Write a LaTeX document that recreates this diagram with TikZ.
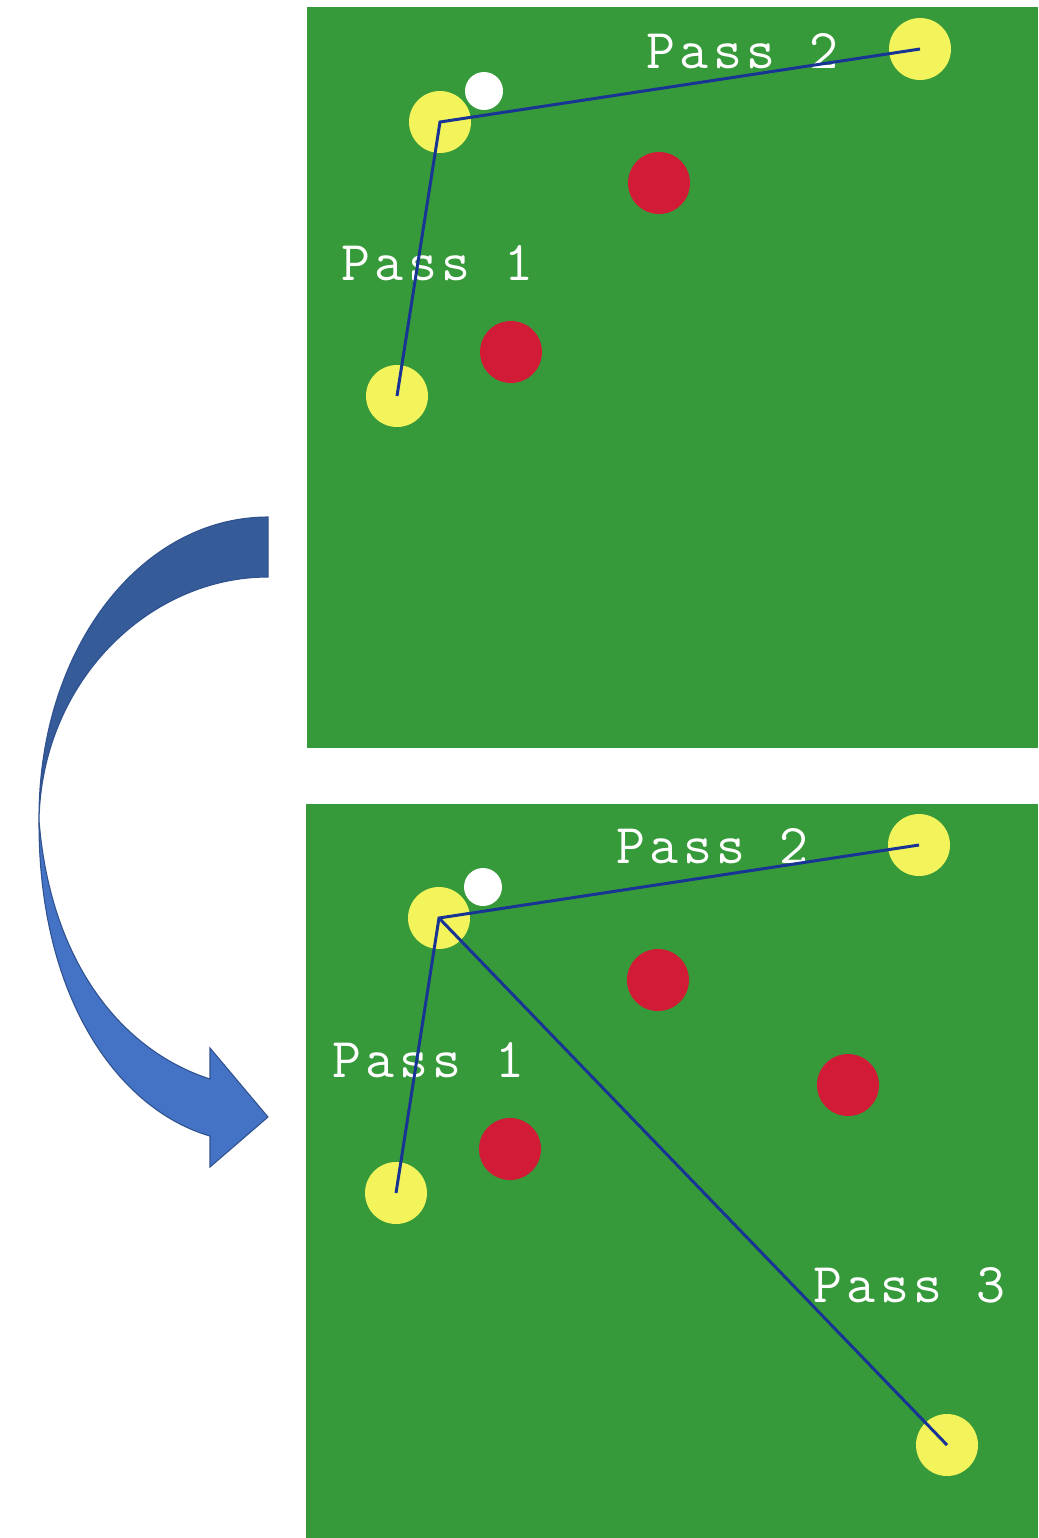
\documentclass[tikz,border=0pt]{standalone}
\usepackage{fontspec}
\newfontfamily\passfont{Latin Modern Mono}[LetterSpace=8]
\usetikzlibrary{positioning}
\definecolor{pitch}{RGB}{54,154,58}
\definecolor{ballyellow}{RGB}{243,243,92}
\definecolor{ballred}{RGB}{210,27,54}
\definecolor{passblue}{RGB}{24,52,148}
\definecolor{arrowdark}{RGB}{53,91,152}
\definecolor{arrowlight}{RGB}{68,114,196}
\definecolor{arrowedge}{RGB}{47,82,143}

\begin{document}
\begin{tikzpicture}[x=0.02cm,y=-0.02cm,
    ball/.style={circle,inner sep=0pt,minimum size=1.24cm},
    yball/.style={ball,fill=ballyellow},
    rball/.style={ball,fill=ballred},
    cue/.style={circle,inner sep=0pt,minimum size=0.76cm,fill=white},
    pass/.style={passblue,line width=1.7pt},
    passlabel/.style={text=white,font=\passfont\fontsize{32}{32}\selectfont,
        inner sep=0pt,anchor=base west}]
    \useasboundingbox (0,0) rectangle (1038,1538);
    % top table
    \fill[pitch] (307,7) rectangle (1038,748);
    \node[cue] (cueT) at (484,91) {};
    \node[yball] (aT) at (397,396) {};
    \node[yball] (bT) at (440,122) {};
    \node[yball] (cT) at (920,49) {};
    \foreach \n/\x/\y in {1/659/183,2/511/352}
        \node[rball] (redT\n) at (\x,\y) {};
    \node[passlabel] (pass1T) at (341,280) {Pass 1};
    \node[passlabel] (pass2T) at (646,68) {Pass 2};
    \draw[pass] (aT.center) -- (bT.center) -- (cT.center);
    % bottom table
    \fill[pitch] (306,804) rectangle (1038,1538);
    \node[cue] (cueB) at (483,887) {};
    \node[yball] (aB) at (396,1193) {};
    \node[yball] (bB) at (439,918) {};
    \node[yball] (cB) at (919,845) {};
    \node[yball] (dB) at (947,1445) {};
    \foreach \n/\x/\y in {1/658/980,2/510/1149,3/848/1085}
        \node[rball] (redB\n) at (\x,\y) {};
    \node[passlabel] (pass1B) at (332,1077) {Pass 1};
    \node[passlabel] (pass2B) at (616,863) {Pass 2};
    \node[passlabel] (pass3B) at (813,1302) {Pass 3};
    \draw[pass] (aB.center) -- (bB.center) -- (cB.center);
    \draw[pass] (bB.center) -- (dB.center);
    % curved arrow
    \filldraw[fill=arrowdark,draw=arrowedge,line width=0.6pt]
        (268,517) .. controls (140,517) and (38,650) .. (39,820)
        .. controls (42,680) and (150,577) .. (268,577) -- cycle;
    \filldraw[fill=arrowlight,draw=arrowedge,line width=0.6pt]
        (39,820) .. controls (38,1000) and (120,1110) .. (210,1136)
        -- (210,1167) -- (268,1117) -- (210,1048) -- (210,1079)
        .. controls (120,1050) and (50,960) .. (39,820) -- cycle;
\end{tikzpicture}
\end{document}
